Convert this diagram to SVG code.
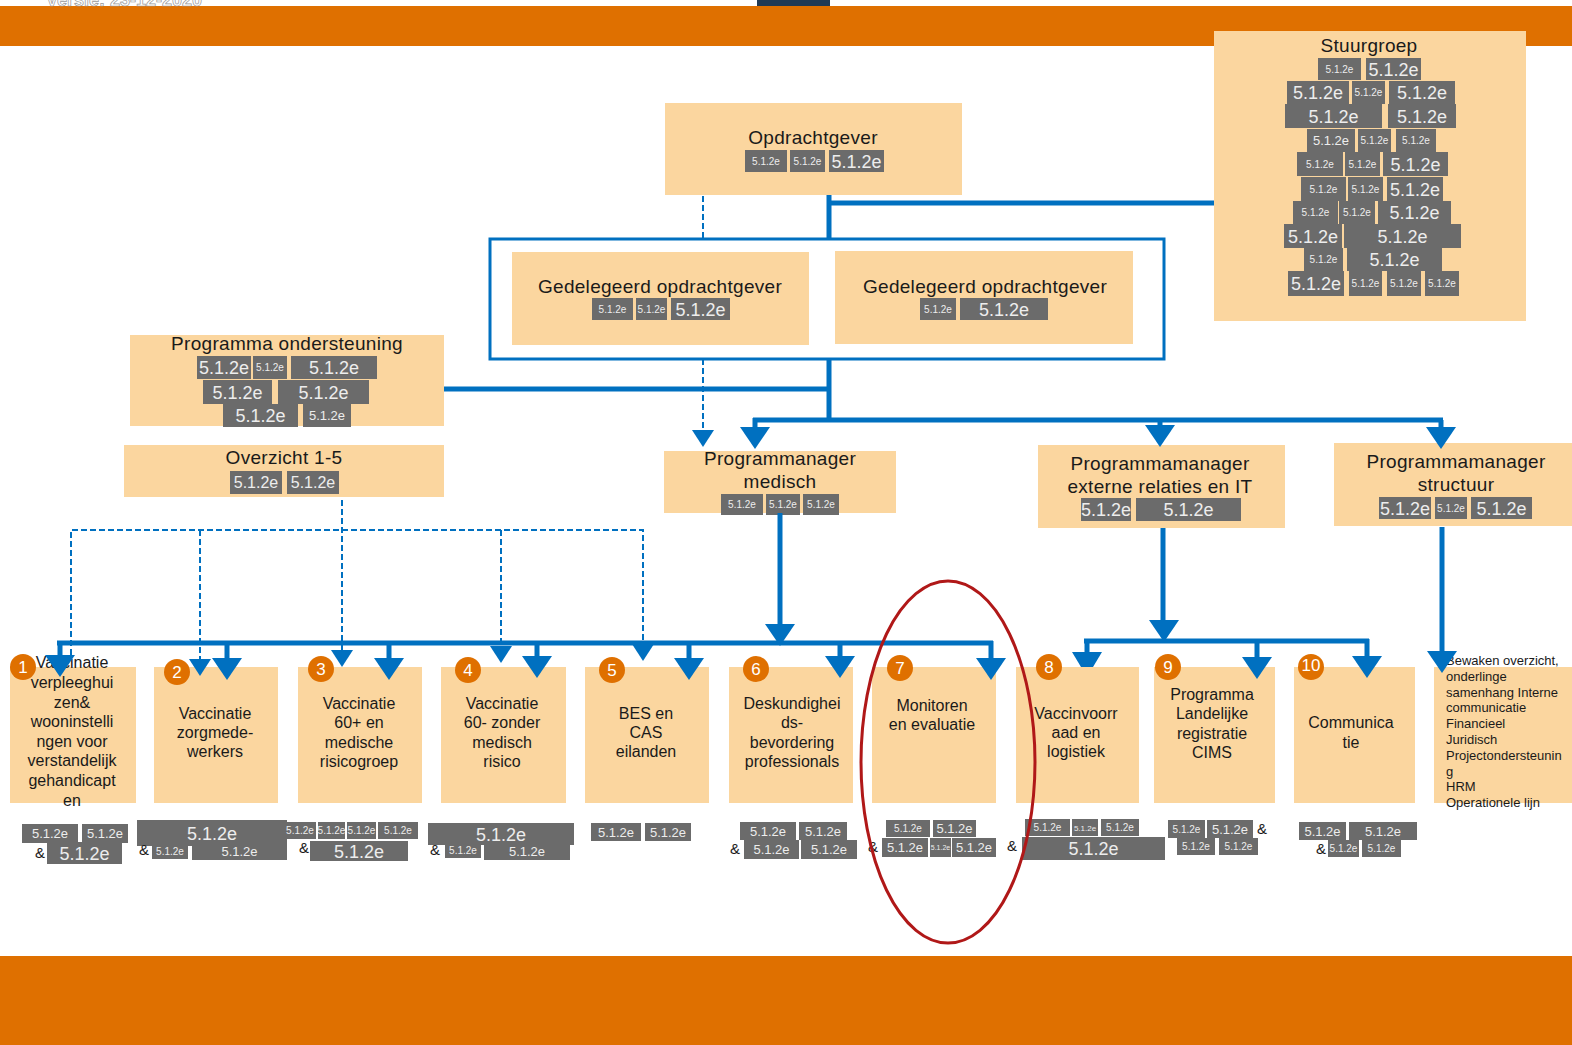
<svg xmlns="http://www.w3.org/2000/svg" xmlns:xlink="http://www.w3.org/1999/xlink" width="1572" height="1045" viewBox="0 0 1572 1045">
<style>
.bx{fill:#FBD69F}
.t{font-family:"Liberation Sans",Arial,sans-serif;fill:#1a1a1a;text-anchor:middle}
.ti{font-size:19px;letter-spacing:0.3px}
.bt{font-size:16px}
.rd{fill:#6B6B6B}
.rt{font-family:"Liberation Sans",Arial,sans-serif;fill:#EDEDED;text-anchor:middle}
.L{font-size:18px}
.M{font-size:13px}
.S{font-size:10px}
.amp{font-family:"Liberation Sans",Arial,sans-serif;font-size:15px;fill:#1a1a1a}
.nc{fill:#DF7000}
.nt{font-family:"Liberation Sans",Arial,sans-serif;font-size:17px;fill:#fff;text-anchor:middle}
.ln{fill:none;stroke:#0070C0;stroke-width:5}
.dl{fill:none;stroke:#0070C0;stroke-width:2;stroke-dasharray:6 3}
.rl{font-family:"Liberation Sans",Arial,sans-serif;font-size:13px;fill:#1a1a1a}
</style>
<defs>
<path id="ab" d="M-15,-22 L15,-22 L0,0 Z" fill="#0070C0"/>
<path id="as" d="M-11,-17 L11,-17 L0,0 Z" fill="#0070C0"/>
</defs>
<rect width="1572" height="1045" fill="#fff"/>
<g id="header">
<rect x="0" y="6" width="1572" height="40" fill="#DF7000"/>
<rect x="757" y="0" width="73" height="6" fill="#1F3A55"/>
<text x="46" y="6" font-family="Liberation Sans,Arial,sans-serif" font-size="18" font-weight="bold" fill="#fff" stroke="#9a9a9a" stroke-width="0.7">Versie: 23-12-2020</text>
</g>
<rect id="footer" x="0" y="956" width="1572" height="89" fill="#DF7000"/>

<g id="stuurgroep">
<rect class="bx" x="1214" y="31" width="312" height="290"/>
<text class="t ti" x="1369" y="52">Stuurgroep</text>
<rect class="rd" x="1318" y="58" width="43" height="22"/><text class="rt S" x="1339.5" y="72.5">5.1.2e</text>
<rect class="rd" x="1366" y="58" width="55" height="22"/><text class="rt L" x="1393.5" y="75.5">5.1.2e</text>
<rect class="rd" x="1287" y="81" width="62" height="23"/><text class="rt L" x="1318" y="99">5.1.2e</text>
<rect class="rd" x="1352" y="81" width="33" height="23"/><text class="rt S" x="1368.5" y="96">5.1.2e</text>
<rect class="rd" x="1389" y="81" width="66" height="23"/><text class="rt L" x="1422" y="99">5.1.2e</text>
<rect class="rd" x="1285" y="104" width="97" height="24"/><text class="rt L" x="1333.5" y="122.5">5.1.2e</text>
<rect class="rd" x="1388" y="104" width="68" height="24"/><text class="rt L" x="1422" y="122.5">5.1.2e</text>
<rect class="rd" x="1307" y="129" width="48" height="23"/><text class="rt M" x="1331" y="145">5.1.2e</text>
<rect class="rd" x="1358" y="129" width="33" height="23"/><text class="rt S" x="1374.5" y="144">5.1.2e</text>
<rect class="rd" x="1396" y="129" width="40" height="23"/><text class="rt S" x="1416" y="144">5.1.2e</text>
<rect class="rd" x="1297" y="152" width="46" height="24"/><text class="rt S" x="1320" y="167.5">5.1.2e</text>
<rect class="rd" x="1345" y="152" width="35" height="24"/><text class="rt S" x="1362.5" y="167.5">5.1.2e</text>
<rect class="rd" x="1383" y="152" width="65" height="24"/><text class="rt L" x="1415.5" y="170.5">5.1.2e</text>
<rect class="rd" x="1301" y="177" width="45" height="24"/><text class="rt S" x="1323.5" y="192.5">5.1.2e</text>
<rect class="rd" x="1348" y="177" width="35" height="24"/><text class="rt S" x="1365.5" y="192.5">5.1.2e</text>
<rect class="rd" x="1387" y="177" width="56" height="24"/><text class="rt L" x="1415" y="195.5">5.1.2e</text>
<rect class="rd" x="1293" y="201" width="45" height="23"/><text class="rt S" x="1315.5" y="216">5.1.2e</text>
<rect class="rd" x="1339" y="201" width="36" height="23"/><text class="rt S" x="1357" y="216">5.1.2e</text>
<rect class="rd" x="1378" y="201" width="73" height="23"/><text class="rt L" x="1414.5" y="219">5.1.2e</text>
<rect class="rd" x="1284" y="224" width="58" height="24"/><text class="rt L" x="1313" y="242.5">5.1.2e</text>
<rect class="rd" x="1344" y="224" width="117" height="24"/><text class="rt L" x="1402.5" y="242.5">5.1.2e</text>
<rect class="rd" x="1304" y="248" width="39" height="23"/><text class="rt S" x="1323.5" y="263">5.1.2e</text>
<rect class="rd" x="1347" y="248" width="95" height="23"/><text class="rt L" x="1394.5" y="266">5.1.2e</text>
<rect class="rd" x="1288" y="271" width="56" height="25"/><text class="rt L" x="1316" y="290">5.1.2e</text>
<rect class="rd" x="1349" y="271" width="33" height="25"/><text class="rt S" x="1365.5" y="287">5.1.2e</text>
<rect class="rd" x="1387" y="271" width="34" height="25"/><text class="rt S" x="1404" y="287">5.1.2e</text>
<rect class="rd" x="1425" y="271" width="34" height="25"/><text class="rt S" x="1442" y="287">5.1.2e</text>
</g>

<g id="opdrachtgever">
<rect class="bx" x="665" y="103" width="297" height="92"/>
<text class="t ti" x="813" y="144">Opdrachtgever</text>
<rect class="rd" x="745" y="150" width="42" height="22"/><text class="rt S" x="766" y="164.5">5.1.2e</text>
<rect class="rd" x="790" y="150" width="35" height="22"/><text class="rt S" x="807.5" y="164.5">5.1.2e</text>
<rect class="rd" x="829" y="150" width="55" height="22"/><text class="rt L" x="856.5" y="167.5">5.1.2e</text>
</g>

<g id="gedelegeerd1">
<rect class="bx" x="512" y="252" width="297" height="93"/>
<text class="t ti" x="660" y="293">Gedelegeerd opdrachtgever</text>
<rect class="rd" x="592" y="298" width="41" height="22"/><text class="rt S" x="612.5" y="312.5">5.1.2e</text>
<rect class="rd" x="636" y="298" width="31" height="22"/><text class="rt S" x="651.5" y="312.5">5.1.2e</text>
<rect class="rd" x="671" y="298" width="59" height="22"/><text class="rt L" x="700.5" y="315.5">5.1.2e</text>
</g>

<g id="gedelegeerd2">
<rect class="bx" x="835" y="251" width="298" height="93"/>
<text class="t ti" x="985" y="293">Gedelegeerd opdrachtgever</text>
<rect class="rd" x="920" y="298" width="36" height="22"/><text class="rt S" x="938" y="312.5">5.1.2e</text>
<rect class="rd" x="960" y="298" width="88" height="22"/><text class="rt L" x="1004" y="315.5">5.1.2e</text>
</g>

<g id="programma-ondersteuning">
<rect class="bx" x="130" y="335" width="314" height="91"/>
<text class="t ti" x="287" y="350">Programma ondersteuning</text>
<rect class="rd" x="197" y="356" width="54" height="23"/><text class="rt L" x="224" y="374">5.1.2e</text>
<rect class="rd" x="253" y="356" width="34" height="23"/><text class="rt S" x="270" y="371">5.1.2e</text>
<rect class="rd" x="291" y="356" width="86" height="23"/><text class="rt L" x="334" y="374">5.1.2e</text>
<rect class="rd" x="203" y="380" width="69" height="24"/><text class="rt L" x="237.5" y="398.5">5.1.2e</text>
<rect class="rd" x="278" y="380" width="91" height="24"/><text class="rt L" x="323.5" y="398.5">5.1.2e</text>
<rect class="rd" x="223" y="404" width="75" height="23"/><text class="rt L" x="260.5" y="422">5.1.2e</text>
<rect class="rd" x="303" y="404" width="48" height="23"/><text class="rt M" x="327" y="420">5.1.2e</text>
</g>

<g id="overzicht">
<rect class="bx" x="124" y="445" width="320" height="52"/>
<text class="t ti" x="284" y="464">Overzicht 1-5</text>
<rect class="rd" x="230" y="471" width="52" height="23"/><text class="rt" font-size="16" x="256" y="488">5.1.2e</text>
<rect class="rd" x="287" y="471" width="52" height="23"/><text class="rt" font-size="16" x="313" y="488">5.1.2e</text>
</g>

<g id="pm-medisch">
<rect class="bx" x="664" y="451" width="232" height="62"/>
<text class="t ti" x="780" y="465">Programmanager</text>
<text class="t ti" x="780" y="488">medisch</text>
<rect class="rd" x="721" y="494" width="42" height="21"/><text class="rt S" x="742" y="508">5.1.2e</text>
<rect class="rd" x="766" y="494" width="34" height="21"/><text class="rt S" x="783" y="508">5.1.2e</text>
<rect class="rd" x="803" y="494" width="36" height="21"/><text class="rt S" x="821" y="508">5.1.2e</text>
</g>

<g id="pm-extern">
<rect class="bx" x="1038" y="445" width="247" height="83"/>
<text class="t ti" x="1160" y="470">Programmamanager</text>
<text class="t ti" x="1160" y="493">externe relaties en IT</text>
<rect class="rd" x="1081" y="498" width="50" height="23"/><text class="rt L" x="1106" y="516">5.1.2e</text>
<rect class="rd" x="1136" y="498" width="105" height="23"/><text class="rt L" x="1188.5" y="516">5.1.2e</text>
</g>

<g id="pm-structuur">
<rect class="bx" x="1334" y="443" width="238" height="83"/>
<text class="t ti" x="1456" y="468">Programmamanager</text>
<text class="t ti" x="1456" y="491">structuur</text>
<rect class="rd" x="1379" y="497" width="52" height="22"/><text class="rt L" x="1405" y="514.5">5.1.2e</text>
<rect class="rd" x="1435" y="497" width="32" height="22"/><text class="rt S" x="1451" y="511.5">5.1.2e</text>
<rect class="rd" x="1471" y="497" width="61" height="22"/><text class="rt L" x="1501.5" y="514.5">5.1.2e</text>
</g>

<g id="p1">
<rect class="bx" x="10" y="667" width="126" height="136"/>
<text class="t bt" x="72" y="668">Vaccinatie</text>
<text class="t bt" x="72" y="688">verpleeghui</text>
<text class="t bt" x="72" y="708">zen&amp;</text>
<text class="t bt" x="72" y="727">wooninstelli</text>
<text class="t bt" x="72" y="747">ngen voor</text>
<text class="t bt" x="72" y="766">verstandelijk</text>
<text class="t bt" x="72" y="786">gehandicapt</text>
<text class="t bt" x="72" y="806">en</text>
<circle class="nc" cx="23" cy="667" r="13"/><text class="nt" x="23" y="673">1</text>
<rect class="rd" x="22" y="824" width="56" height="19"/><text class="rt M" x="50" y="838">5.1.2e</text>
<rect class="rd" x="82" y="824" width="46" height="19"/><text class="rt M" x="105" y="838">5.1.2e</text>
<text class="amp" x="35" y="858">&amp;</text>
<rect class="rd" x="47" y="842" width="75" height="22"/><text class="rt L" x="84.5" y="859.5">5.1.2e</text>
</g>

<g id="p2">
<rect class="bx" x="154" y="667" width="124" height="136"/>
<text class="t bt" x="215" y="719">Vaccinatie</text>
<text class="t bt" x="215" y="738">zorgmede-</text>
<text class="t bt" x="215" y="757">werkers</text>
<circle class="nc" cx="177" cy="672" r="13"/><text class="nt" x="177" y="678">2</text>
<rect class="rd" x="137" y="820" width="150" height="26"/><text class="rt L" x="212" y="839.5">5.1.2e</text>
<text class="amp" x="139" y="855">&amp;</text>
<rect class="rd" x="152" y="843" width="36" height="16"/><text class="rt S" x="170" y="854.5">5.1.2e</text>
<rect class="rd" x="192" y="843" width="95" height="17"/><text class="rt M" x="239.5" y="856">5.1.2e</text>
</g>

<g id="p3">
<rect class="bx" x="298" y="667" width="124" height="136"/>
<text class="t bt" x="359" y="709">Vaccinatie</text>
<text class="t bt" x="359" y="728">60+ en</text>
<text class="t bt" x="359" y="748">medische</text>
<text class="t bt" x="359" y="767">risicogroep</text>
<circle class="nc" cx="321" cy="669" r="13"/><text class="nt" x="321" y="675">3</text>
<rect class="rd" x="284" y="822" width="32" height="17"/><text class="rt S" x="300" y="834">5.1.2e</text>
<rect class="rd" x="318" y="822" width="27" height="17"/><text class="rt S" x="331.5" y="834">5.1.2e</text>
<rect class="rd" x="347" y="822" width="29" height="17"/><text class="rt S" x="361.5" y="834">5.1.2e</text>
<rect class="rd" x="378" y="822" width="40" height="17"/><text class="rt S" x="398" y="834">5.1.2e</text>
<text class="amp" x="299" y="853">&amp;</text>
<rect class="rd" x="310" y="841" width="98" height="20"/><text class="rt L" x="359" y="857.5">5.1.2e</text>
</g>

<g id="p4">
<rect class="bx" x="441" y="667" width="125" height="136"/>
<text class="t bt" x="502" y="709">Vaccinatie</text>
<text class="t bt" x="502" y="728">60- zonder</text>
<text class="t bt" x="502" y="748">medisch</text>
<text class="t bt" x="502" y="767">risico</text>
<circle class="nc" cx="468" cy="670" r="13"/><text class="nt" x="468" y="676">4</text>
<rect class="rd" x="428" y="823" width="146" height="22"/><text class="rt L" x="501" y="840.5">5.1.2e</text>
<text class="amp" x="430" y="855">&amp;</text>
<rect class="rd" x="445" y="843" width="36" height="15"/><text class="rt S" x="463" y="854">5.1.2e</text>
<rect class="rd" x="484" y="843" width="86" height="17"/><text class="rt M" x="527" y="856">5.1.2e</text>
</g>

<g id="p5">
<rect class="bx" x="585" y="667" width="124" height="136"/>
<text class="t bt" x="646" y="719">BES en</text>
<text class="t bt" x="646" y="738">CAS</text>
<text class="t bt" x="646" y="757">eilanden</text>
<circle class="nc" cx="612" cy="670" r="13"/><text class="nt" x="612" y="676">5</text>
<rect class="rd" x="591" y="823" width="50" height="18"/><text class="rt M" x="616" y="836.5">5.1.2e</text>
<rect class="rd" x="645" y="823" width="46" height="18"/><text class="rt M" x="668" y="836.5">5.1.2e</text>
</g>

<g id="p6">
<rect class="bx" x="729" y="667" width="124" height="136"/>
<text class="t bt" x="792" y="709">Deskundighei</text>
<text class="t bt" x="792" y="728">ds-</text>
<text class="t bt" x="792" y="748">bevordering</text>
<text class="t bt" x="792" y="767">professionals</text>
<circle class="nc" cx="756" cy="669" r="13"/><text class="nt" x="756" y="675">6</text>
<rect class="rd" x="740" y="822" width="56" height="18"/><text class="rt M" x="768" y="835.5">5.1.2e</text>
<rect class="rd" x="799" y="822" width="48" height="18"/><text class="rt M" x="823" y="835.5">5.1.2e</text>
<text class="amp" x="730" y="854">&amp;</text>
<rect class="rd" x="744" y="840" width="55" height="19"/><text class="rt M" x="771.5" y="854">5.1.2e</text>
<rect class="rd" x="801" y="840" width="56" height="19"/><text class="rt M" x="829" y="854">5.1.2e</text>
</g>

<g id="p7">
<rect class="bx" x="872" y="667" width="124" height="136"/>
<text class="t bt" x="932" y="711">Monitoren</text>
<text class="t bt" x="932" y="730">en evaluatie</text>
<circle class="nc" cx="900" cy="668" r="13"/><text class="nt" x="900" y="674">7</text>
<rect class="rd" x="886" y="820" width="44" height="17"/><text class="rt S" x="908" y="832">5.1.2e</text>
<rect class="rd" x="933" y="820" width="43" height="17"/><text class="rt M" x="954.5" y="833">5.1.2e</text>
<text class="amp" x="868" y="852">&amp;</text>
<rect class="rd" x="882" y="838" width="46" height="19"/><text class="rt M" x="905" y="852">5.1.2e</text>
<rect class="rd" x="930" y="838" width="21" height="19"/><text class="rt" font-size="7" x="940.5" y="850">5.1.2e</text>
<rect class="rd" x="952" y="838" width="44" height="19"/><text class="rt M" x="974" y="852">5.1.2e</text>
</g>

<g id="p8">
<rect class="bx" x="1016" y="667" width="123" height="136"/>
<text class="t bt" x="1076" y="719">Vaccinvoorr</text>
<text class="t bt" x="1076" y="738">aad en</text>
<text class="t bt" x="1076" y="757">logistiek</text>
<circle class="nc" cx="1049" cy="667" r="13"/><text class="nt" x="1049" y="673">8</text>
<rect class="rd" x="1025" y="819" width="45" height="17"/><text class="rt S" x="1047.5" y="831">5.1.2e</text>
<rect class="rd" x="1072" y="819" width="26" height="17"/><text class="rt" font-size="8" x="1085" y="830.5">5.1.2e</text>
<rect class="rd" x="1101" y="819" width="38" height="17"/><text class="rt S" x="1120" y="831">5.1.2e</text>
<text class="amp" x="1007" y="851">&amp;</text>
<rect class="rd" x="1022" y="837" width="143" height="23"/><text class="rt L" x="1093.5" y="855">5.1.2e</text>
</g>

<g id="p9">
<rect class="bx" x="1154" y="667" width="121" height="136"/>
<text class="t bt" x="1212" y="700">Programma</text>
<text class="t bt" x="1212" y="719">Landelijke</text>
<text class="t bt" x="1212" y="739">registratie</text>
<text class="t bt" x="1212" y="758">CIMS</text>
<circle class="nc" cx="1168" cy="667" r="13"/><text class="nt" x="1168" y="673">9</text>
<rect class="rd" x="1168" y="820" width="37" height="18"/><text class="rt S" x="1186.5" y="832.5">5.1.2e</text>
<rect class="rd" x="1207" y="820" width="46" height="18"/><text class="rt M" x="1230" y="834">5.1.2e</text>
<text class="amp" x="1257" y="834">&amp;</text>
<rect class="rd" x="1177" y="838" width="38" height="17"/><text class="rt S" x="1196" y="850">5.1.2e</text>
<rect class="rd" x="1219" y="838" width="39" height="17"/><text class="rt S" x="1238.5" y="850">5.1.2e</text>
</g>

<g id="p10">
<rect class="bx" x="1294" y="667" width="121" height="136"/>
<text class="t bt" x="1351" y="728">Communica</text>
<text class="t bt" x="1351" y="748">tie</text>
<circle class="nc" cx="1311" cy="667" r="13"/><text class="nt" x="1311" y="671" font-size="11">10</text>
<rect class="rd" x="1299" y="822" width="47" height="18"/><text class="rt M" x="1322.5" y="835.5">5.1.2e</text>
<rect class="rd" x="1349" y="822" width="68" height="18"/><text class="rt M" x="1383" y="835.5">5.1.2e</text>
<text class="amp" x="1316" y="854">&amp;</text>
<rect class="rd" x="1328" y="840" width="31" height="17"/><text class="rt S" x="1343.5" y="852">5.1.2e</text>
<rect class="rd" x="1362" y="840" width="39" height="17"/><text class="rt S" x="1381.5" y="852">5.1.2e</text>
</g>

<g id="p-structuur">
<rect class="bx" x="1434" y="667" width="138" height="136"/>
<text class="rl" x="1446" y="665">Bewaken overzicht,</text>
<text class="rl" x="1446" y="681">onderlinge</text>
<text class="rl" x="1446" y="697">samenhang  Interne</text>
<text class="rl" x="1446" y="712">communicatie</text>
<text class="rl" x="1446" y="728">Financieel</text>
<text class="rl" x="1446" y="744">Juridisch</text>
<text class="rl" x="1446" y="760">Projectondersteunin</text>
<text class="rl" x="1446" y="776">g</text>
<text class="rl" x="1446" y="791">HRM</text>
<text class="rl" x="1446" y="807">Operationele lijn</text>
</g>

<g id="connectors">
<path class="ln" stroke-width="4" d="M829,195 V239 M829,203 H1214"/>
<rect x="490" y="239" width="674" height="120" fill="none" stroke="#0070C0" stroke-width="3"/>
<path class="dl" d="M703,196 V239 M703,359 V432"/>
<use xlink:href="#as" x="703" y="447"/>
<path class="ln" d="M829,359 V420 M444,389 H829 M753,420 H1443 M755,418 V428 M1160,420 V426 M1441,420 V428"/>
<use xlink:href="#ab" x="755" y="449"/>
<use xlink:href="#ab" x="1160" y="447"/>
<use xlink:href="#ab" x="1441" y="449"/>
<path class="ln" d="M780,513 V625"/>
<use xlink:href="#ab" x="780" y="646"/>
<path class="ln" d="M57,643 H993 M60,641 V656 M227,643 V658 M389,643 V658 M537,643 V656 M689,643 V658 M840,643 V656 M991,641 V658"/>
<use xlink:href="#ab" x="60" y="677"/>
<use xlink:href="#ab" x="227" y="680"/>
<use xlink:href="#ab" x="389" y="680"/>
<use xlink:href="#ab" x="537" y="678"/>
<use xlink:href="#ab" x="689" y="680"/>
<use xlink:href="#ab" x="840" y="678"/>
<use xlink:href="#ab" x="991" y="680"/>
<path class="ln" d="M1163,528 V622"/>
<use xlink:href="#ab" x="1164" y="642"/>
<path class="ln" d="M1084,641 H1369 M1087,639 V652 M1257,641 V657 M1367,639 V656"/>
<path d="M1072,652 L1102,652 L1093,667 L1081,667 Z" fill="#0070C0"/>
<use xlink:href="#ab" x="1257" y="679"/>
<use xlink:href="#ab" x="1367" y="678"/>
<path class="ln" d="M1442,527 V652"/>
<use xlink:href="#ab" x="1442" y="673"/>
<path class="dl" d="M342,500 V651 M71,655 V530 H643 V645 M200,530 V660 M501,530 V647"/>
<use xlink:href="#as" x="200" y="676"/>
<use xlink:href="#as" x="342" y="667"/>
<use xlink:href="#as" x="501" y="663"/>
<use xlink:href="#as" x="643" y="661"/>
</g>

<ellipse id="highlight" cx="948" cy="762" rx="87" ry="181" fill="none" stroke="#B01818" stroke-width="3"/>
</svg>
